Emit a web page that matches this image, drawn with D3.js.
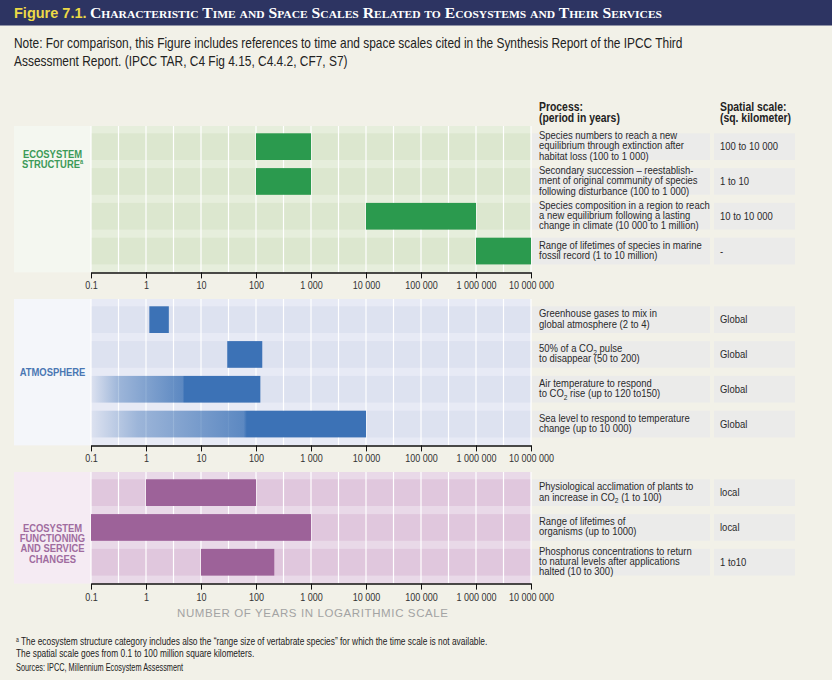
<!DOCTYPE html>
<html><head><meta charset="utf-8">
<script src="https://cdn.jsdelivr.net/npm/d3@7"></script>
<style>
body{margin:0;background:#f2f1e8;}
svg{display:block;}
</style>
</head><body>
<svg id="chart" width="832" height="680"></svg>
<script>
// ---------------- DATA ----------------
const sectionNames = [
  ["ECOSYSTEM", "STRUCTURE^a"],
  ["ATMOSPHERE"],
  ["ECOSYSTEM", "FUNCTIONING", "AND SERVICE", "CHANGES"]
];
const rowSection = [0, 0, 0, 0, 1, 1, 1, 1, 2, 2, 2];
const rowStart   = [100, 100, 10000, 1000000, 1.15, 30, 0.1, 0.1, 1, 0.1, 10];
const rowEnd     = [1000, 1000, 1000000, 10000000, 2.6, 130, 120, 10000, 100, 1000, 215];
const rowFadeTo  = [null, null, null, null, null, null, 5, 68, null, null, null];
const processText = [
  ["Species numbers to reach a new", "equilibrium through extinction after", "habitat loss (100 to 1 000)"],
  ["Secondary succession \u2013 reestablish-", "ment of original community of species", "following disturbance (100 to 1 000)"],
  ["Species composition in a region to reach", "a new equilibrium following a lasting", "change in climate (10 000 to 1 million)"],
  ["Range of lifetimes of species in marine", "fossil record (1 to 10 million)"],
  ["Greenhouse gases to mix in", "global atmosphere (2 to 4)"],
  ["50% of a CO_2 pulse", "to disappear (50 to 200)"],
  ["Air temperature to respond", "to CO_2 rise (up to 120 to150)"],
  ["Sea level to respond to temperature", "change (up to 10 000)"],
  ["Physiological acclimation of plants to", "an increase in CO_2 (1 to 100)"],
  ["Range of lifetimes of", "organisms (up to 1000)"],
  ["Phosphorus concentrations to return", "to natural levels after applications", "halted  (10 to 300)"]
];
const spatialText = ["100 to 10 000", "1 to 10", "10 to 10 000", "-", "Global", "Global", "Global", "Global", "local", "local", "1 to10"];
const tickValues = [0.1, 1, 10, 100, 1000, 10000, 100000, 1000000, 10000000];
const tickLabels = ["0.1", "1", "10", "100", "1 000", "10 000", "100 000", "1 000 000", "10 000 000"];
const titleLead = "Figure 7.1.";
const titleMain = "Characteristic Time and Space Scales Related to Ecosystems and Their Services";
const noteLines = [
  "Note: For comparison, this Figure includes references to time and space scales cited in the Synthesis Report of the IPCC Third",
  "Assessment Report. (IPCC TAR, C4 Fig 4.15, C4.4.2, CF7, S7)"
];
const axisTitle = "NUMBER OF YEARS IN LOGARITHMIC SCALE";
const footLines = [
  "The ecosystem structure category includes also the \u201crange size of vertabrate species\u201d for which the time scale is not available.",
  "The spatial scale goes from 0.1 to 100 million square kilometers."
];
const sourceLine = "Sources: IPCC, Millennium Ecosystem Assessment";
const headers = [["Process:", "(period in years)"], ["Spatial scale:", "(sq. kilometer)"]];

// ---------------- STYLE / LAYOUT ----------------
const theme = [
  {bar:"#2b9a4e", bg:"#e6eedc", band:"#dce7cf", side:"#f4f7f0", label:"#3c9a58"},
  {bar:"#3c72b6", bg:"#e7eaf5", band:"#dde2f0", side:"#f4f6fa", label:"#4a77b3"},
  {bar:"#9d6299", bg:"#e9d9e8", band:"#e0c7dd", side:"#f5ebf3", label:"#a06c9f"}
];
const panelTop = [126, 299, 472];
const labelCenter = [159, 372, 543];
const padTop = 7.3, rowStep = 34.8, rowH = 26.7, padBot = 8;
const X0 = 91, X1 = 531, sideX = 14;
const SANS = '"Liberation Sans", Arial, Helvetica, sans-serif';

const svg = d3.select("#chart");
const x = d3.scaleLog().domain([0.1, 1e7]).range([X0, X1]);

// condensed text helper: horizontal squeeze to mimic a narrow face
function ntext(parent, px, py, size, sx, opts = {}) {
  const g = parent.append("g").attr("transform", `translate(${px},${py}) scale(${sx},1)`);
  const t = g.append("text").attr("x", 0).attr("y", 0)
    .attr("font-family", SANS).attr("font-size", size)
    .attr("fill", opts.fill || "#222")
    .attr("font-weight", opts.bold ? "bold" : "normal");
  if (opts.anchor) t.attr("text-anchor", opts.anchor);
  return t;
}

// renders "_2" as subscript 2 and "^a" as superscript a
function addRich(sel, str) {
  const parts = str.split(/(_2|\^a)/).filter(p => p !== "");
  let pendingDy = 0;
  parts.forEach(p => {
    if (p === "_2") {
      sel.append("tspan").attr("font-size", "0.7em").attr("dy", pendingDy + 2.5).text("2");
      pendingDy = -2.5;
    } else if (p === "^a") {
      sel.append("tspan").attr("font-size", "0.6em").attr("dy", pendingDy - 4).text("a");
      pendingDy = 4;
    } else {
      const ts = sel.append("tspan").text(p);
      if (pendingDy) ts.attr("dy", pendingDy);
      pendingDy = 0;
    }
  });
}

// background
svg.append("rect").attr("width", 832).attr("height", 680).attr("fill", "#f2f1e8");

// title bar
svg.append("rect").attr("x", 0).attr("y", 0).attr("width", 832).attr("height", 25.5).attr("fill", "#2d3462");
svg.append("text").attr("x", 14).attr("y", 18)
  .attr("font-family", SANS).attr("font-weight", "bold")
  .attr("font-size", 14.5).attr("fill", "#ecd946").text(titleLead);
svg.append("text").attr("x", 90).attr("y", 18)
  .attr("font-family", "Liberation Serif, Times New Roman, serif").attr("font-weight", "bold")
  .attr("font-size", 15).attr("fill", "#ffffff")
  .style("font-variant", "small-caps")
  .attr("textLength", 572).attr("lengthAdjust", "spacingAndGlyphs")
  .text(titleMain);

// note
noteLines.forEach((t, i) => {
  ntext(svg, 14, 48 + i * 17.7, 14, 0.852).text(t);
});

// headers
const headerX = [539, 720];
headers.forEach((h, j) => {
  h.forEach((t, i) => {
    ntext(svg, headerX[j], 110.5 + i * 11.5, 13, 0.8, {bold: true}).text(t);
  });
});

const defs = svg.append("defs");
const gridVals = d3.range(-1, 7.01, 0.5).map(e => Math.pow(10, e));

sectionNames.forEach((names, s) => {
  const th = theme[s];
  const rows = d3.range(rowSection.length).filter(i => rowSection[i] === s);
  const top = panelTop[s];
  const h = padTop + (rows.length - 1) * rowStep + rowH + padBot;
  const bottom = top + h;
  const g = svg.append("g");

  g.append("rect").attr("x", sideX).attr("y", top).attr("width", X0 - sideX).attr("height", h).attr("fill", th.side);
  g.append("rect").attr("x", X0).attr("y", top).attr("width", X1 - X0).attr("height", h).attr("fill", th.bg);

  rows.forEach((r, k) => {
    const y = top + padTop + k * rowStep;
    g.append("rect").attr("x", X0).attr("y", y).attr("width", X1 - X0).attr("height", rowH).attr("fill", th.band);
    g.append("rect").attr("x", X1 + 1).attr("y", y).attr("width", 710 - X1 - 1).attr("height", rowH).attr("fill", "#ebebea");
    g.append("rect").attr("x", 714).attr("y", y).attr("width", 81).attr("height", rowH).attr("fill", "#ebebea");
  });

  g.selectAll("line.grid").data(gridVals).enter().append("line")
    .attr("x1", d => x(d)).attr("x2", d => x(d))
    .attr("y1", top).attr("y2", bottom)
    .attr("stroke", "#ffffff").attr("stroke-width", 1.2);

  rows.forEach((r, k) => {
    const y = top + padTop + k * rowStep;
    let fill = th.bar;
    if (rowFadeTo[r] !== null) {
      const id = "fade" + r;
      const lg = defs.append("linearGradient").attr("id", id)
        .attr("gradientUnits", "userSpaceOnUse")
        .attr("x1", x(rowStart[r])).attr("x2", x(rowFadeTo[r])).attr("y1", 0).attr("y2", 0);
      lg.append("stop").attr("offset", 0).attr("stop-color", th.bar).attr("stop-opacity", 0.0);
      lg.append("stop").attr("offset", 0.3).attr("stop-color", th.bar).attr("stop-opacity", 0.4);
      lg.append("stop").attr("offset", 0.98).attr("stop-color", th.bar).attr("stop-opacity", 0.8);
      lg.append("stop").attr("offset", 1).attr("stop-color", th.bar).attr("stop-opacity", 1);
      fill = "url(#" + id + ")";
    }
    g.append("rect").attr("x", x(rowStart[r]))
      .attr("y", y).attr("width", x(rowEnd[r]) - x(rowStart[r]))
      .attr("height", rowH).attr("fill", fill);

    const lines = processText[r];
    const cy = y + rowH / 2 - 1;
    lines.forEach((t, i) => {
      const tx = ntext(g, 539, cy + (i - (lines.length - 1) / 2) * 10.3 + 3.8, 10.8, 0.878, {fill: "#2a2a2a"});
      addRich(tx, t);
    });
    ntext(g, 720, y + rowH / 2 + 3.8, 10.8, 0.878, {fill: "#2a2a2a"}).text(spatialText[r]);
  });

  names.forEach((n, i) => {
    const t = ntext(g, 52.5, labelCenter[s] + (i - (names.length - 1) / 2) * 10.4 + 4.2, 11.5, 0.82,
      {bold: true, fill: th.label, anchor: "middle"});
    addRich(t, n);
  });

  const ax = g.append("g").attr("transform", `translate(0,${bottom})`)
    .call(d3.axisBottom(x).tickValues(tickValues).tickFormat((d, i) => tickLabels[i]).tickSize(6).tickSizeOuter(0));
  ax.select(".domain").attr("stroke", "#111").attr("stroke-width", 1.5);
  ax.selectAll(".tick line").attr("stroke", "#111");
  ax.selectAll(".tick text").attr("font-family", SANS).attr("font-size", 11).attr("fill", "#333")
    .attr("dy", "0.72em").attr("y", 9).attr("transform", "scale(0.82,1)");
});

// axis title
svg.append("text").attr("x", 312.5).attr("y", 617).attr("text-anchor", "middle")
  .attr("font-family", SANS).attr("font-size", 11.5)
  .attr("fill", "#a3a3a3").attr("textLength", 271).attr("lengthAdjust", "spacing")
  .text(axisTitle);

// footnotes
const f1 = ntext(svg, 16, 645, 11.5, 0.727);
f1.append("tspan").attr("font-size", 7).attr("dy", -3.5).text("a");
f1.append("tspan").attr("dy", 3.5).text(" " + footLines[0]);
ntext(svg, 16, 656.5, 11.5, 0.727).text(footLines[1]);
ntext(svg, 16, 670.5, 10.2, 0.72).text(sourceLine);
</script>
</body></html>
